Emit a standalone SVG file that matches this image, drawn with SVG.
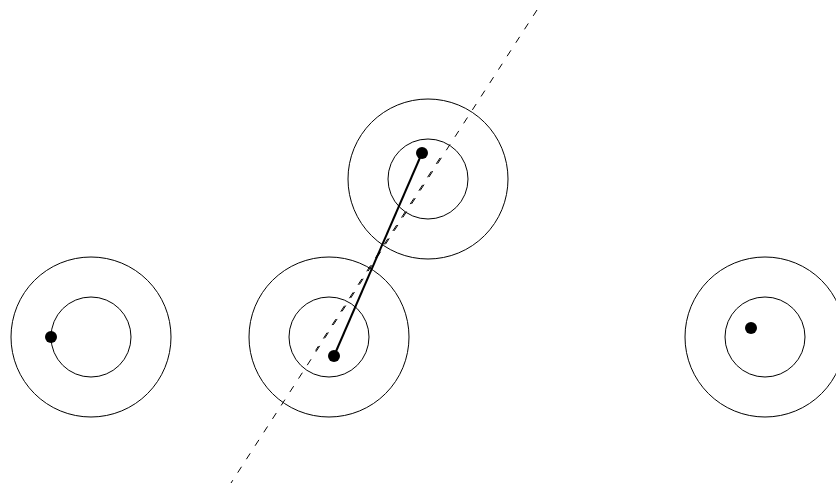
<svg xmlns="http://www.w3.org/2000/svg" width="836" height="484" viewBox="0 0 836 484">
<style>
.ring{fill:none;stroke:#000;stroke-width:1}
.dot{fill:#000}
.dash{fill:none;stroke:#000;stroke-width:1;stroke-dasharray:7 9}
.solid{fill:none;stroke:#000;stroke-width:2}
</style>
<rect width="836" height="484" fill="#fff"/>
<g id="node-left">
<circle class="ring" cx="91" cy="337" r="80"/>
<circle class="ring" cx="91" cy="337" r="40"/>
<circle class="dot" cx="51" cy="337" r="6"/>
</g>
<g id="node-middle">
<circle class="ring" cx="329" cy="337" r="80"/>
<circle class="ring" cx="329" cy="337" r="40"/>
<circle class="dot" cx="334" cy="356" r="6"/>
</g>
<g id="node-top">
<circle class="ring" cx="428" cy="179" r="80"/>
<circle class="ring" cx="428" cy="179" r="40"/>
<circle class="dot" cx="422" cy="153" r="6"/>
</g>
<g id="node-right">
<circle class="ring" cx="765" cy="337" r="80"/>
<circle class="ring" cx="765" cy="337" r="40"/>
<circle class="dot" cx="751" cy="328" r="6"/>
</g>
<g id="connectors">
<line class="dash" x1="537" y1="10" x2="231" y2="483"/>
<line class="dash" x1="442.6" y1="154" x2="315.6" y2="350.5" style="stroke-dashoffset:11.3"/>
<line class="solid" x1="334" y1="356" x2="422" y2="153"/>
</g>
</svg>
